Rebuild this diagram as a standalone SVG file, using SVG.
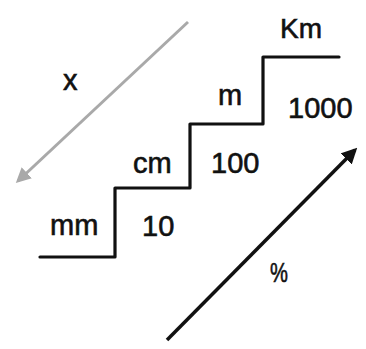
<svg xmlns="http://www.w3.org/2000/svg" width="366" height="349" viewBox="0 0 366 349">
<style>
.t{font-family:"Liberation Sans",Arial,sans-serif;font-size:29px;fill:#111;stroke:#111;stroke-width:0.6}
.stair{fill:none;stroke:#111;stroke-width:3.2;stroke-linejoin:round;stroke-linecap:round}
</style>
<defs>
<marker id="ahGray" viewBox="0 0 10 10" refX="8" refY="5" markerWidth="5" markerHeight="5" orient="auto" markerUnits="strokeWidth">
<path d="M0,0 L10,5 L0,10 z" fill="#a9a9a9"/>
</marker>
<marker id="ahBlack" viewBox="0 0 10 10" refX="8" refY="5" markerWidth="4.5" markerHeight="4.5" orient="auto" markerUnits="strokeWidth">
<path d="M0,0 L10,5 L0,10 z" fill="#111"/>
</marker>
</defs>
<rect width="366" height="349" fill="#fff"/>
<g id="stairs">
<path class="stair" d="M40,257 H115 V188 H190 V124 H263 V57 H339"/>
</g>
<g id="connectors">
<line x1="188" y1="22" x2="18" y2="181" stroke="#a9a9a9" stroke-width="3" marker-end="url(#ahGray)"/>
<line x1="167" y1="340" x2="355" y2="150" stroke="#111" stroke-width="3.5" marker-end="url(#ahBlack)"/>
</g>
<g id="labels">
<text class="t" x="280" y="38" style="font-size:28px">Km</text>
<text class="t" x="218" y="105">m</text>
<text class="t" x="288" y="118">1000</text>
<text class="t" x="133" y="173">cm</text>
<text class="t" x="211" y="173">100</text>
<text class="t" x="50" y="235">mm</text>
<text class="t" x="142" y="236">10</text>
<text class="t" x="63" y="90">x</text>
<text class="t" transform="translate(270,282) scale(0.72,1)" x="0" y="0" style="font-size:28px">%</text>
</g>
</svg>
